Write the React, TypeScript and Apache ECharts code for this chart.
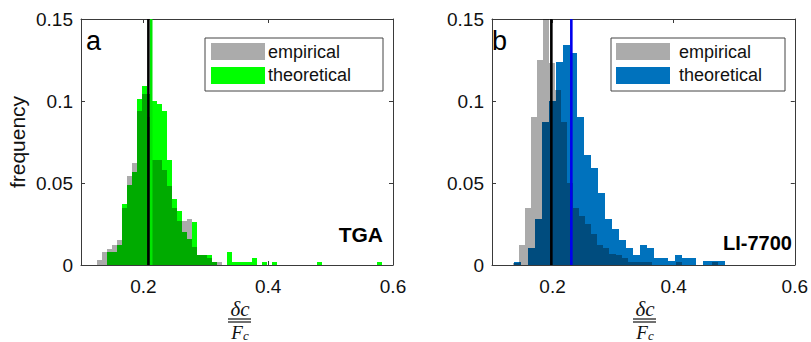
import React, { useEffect, useRef } from "react";
import * as echarts from "echarts";

// ---------- axes ----------
const X_MIN = 0.1;
const X_MAX = 0.6;
const X_TICKS = [0.2, 0.4, 0.6];
const Y_MIN = 0;
const Y_MAX = 0.15;
const Y_STEP = 0.05;

// ---------- panel a (TGA) ----------
const TGA_BIN_START = 0.126;
const TGA_BIN_WIDTH = 0.008;
const tgaEmpirical = [
  0.003, 0.008, 0.0095, 0.012, 0.0155, 0.035, 0.054, 0.062, 0.094, 0.104,
  0.09, 0.064, 0.064, 0.058, 0.048, 0.035, 0.027, 0.027, 0.028, 0.011,
  0.006, 0.006, 0.004, 0.002, 0.002,
];
const tgaTheoretical = [
  0, 0, 0.008, 0.008, 0.0125, 0.037, 0.049, 0.057, 0.101, 0.109,
  0.104, 0.1, 0.098, 0.094, 0.064, 0.04, 0.033, 0.02, 0.016, 0.026,
  0.006, 0.006, 0.006, 0.002, 0, 0, 0.008, 0.002, 0.002, 0.002,
  0.002, 0.004, 0, 0.002, 0, 0.002, 0, 0, 0, 0,
  0, 0, 0, 0, 0.002, 0, 0, 0, 0, 0,
  0, 0, 0, 0, 0, 0, 0.002,
];
const TGA_EMP_MEAN = 0.208;
const TGA_THEO_MEAN = 0.2125;

// ---------- panel b (LI-7700) ----------
const LI_EMP_START = 0.134;
const LI_EMP_WIDTH = 0.01;
const liEmpirical = [
  0.0015, 0.0125, 0.035, 0.09, 0.125, 0.16, 0.123, 0.107, 0.087, 0.05,
  0.035, 0.03, 0.025, 0.019, 0.0125, 0.0105, 0.007, 0.006, 0.004, 0.002,
  0.002, 0.002, 0.002, 0, 0, 0, 0, 0.002, 0, 0,
  0, 0, 0, 0.002,
];
const LI_THEO_START = 0.136;
const LI_THEO_WIDTH = 0.0116;
const liTheoretical = [
  0.002, 0, 0.0105, 0.028, 0.087, 0.1, 0.124, 0.134, 0.129, 0.09,
  0.067, 0.059, 0.044, 0.028, 0.022, 0.0155, 0.0105, 0.006, 0.012, 0.0105,
  0.0044, 0.0044, 0.0023, 0.006, 0.0044, 0.0044, 0, 0.0023, 0.0023, 0.0023,
];
const LI_EMP_MEAN = 0.198;
const LI_THEO_MEAN = 0.231;

// ---------- texts ----------
const Y_NAME = "frequency";
const LEGEND_LABELS = ["empirical", "theoretical"];
const PANEL_TAGS = ["a", "b"];
const INSTRUMENTS = ["TGA", "LI-7700"];

// ---------- colours ----------
const EMP_FILL = "rgba(0,0,0,0.33)";
const EMP_SWATCH = "#ababab";
const GREEN = "#00ff00";
const BLUE = "#0072bd";
const GREEN_LINE = "#00e600";
const BLUE_LINE = "#0000ee";
const AXIS = "#3a3a3a";
const FONT = "'Liberation Sans', Arial, sans-serif";
const SERIF = "'Liberation Serif', 'Times New Roman', serif";

const fmt = (v: number) => String(+Number(v).toFixed(3));

function histSeries(
  name: string,
  start: number,
  width: number,
  values: number[],
  color: string,
  axis: number,
  z: number
) {
  return {
    name,
    type: "custom",
    xAxisIndex: axis * 2,
    yAxisIndex: axis * 2,
    z,
    data: values.map((v, i) => [start + i * width, start + (i + 1) * width, v]),
    encode: { x: [0, 1], y: 2 },
    renderItem: (params: any, api: any) => {
      const v = api.value(2);
      if (!v) return null;
      const cs = params.coordSys;
      const p0 = api.coord([api.value(0), v]);
      const p1 = api.coord([api.value(1), 0]);
      const x0 = Math.round(p0[0]);
      const x1 = Math.round(p1[0]);
      const yb = Math.round(p1[1]);
      const yt = Math.max(Math.round(p0[1]), cs.y);
      return {
        type: "rect",
        shape: { x: x0, y: yt, width: x1 - x0, height: yb - yt },
        style: { fill: color },
      };
    },
  };
}

function meanLine(value: number, color: string, axis: number) {
  return {
    type: "line",
    xAxisIndex: axis * 2,
    yAxisIndex: axis * 2,
    z: 10,
    symbol: "none",
    silent: true,
    data: [
      [value, Y_MIN],
      [value, Y_MAX],
    ],
    lineStyle: { color, width: 2.6 },
  };
}

function xAxes(grid: number) {
  const common = {
    type: "value",
    gridIndex: grid,
    min: X_MIN,
    max: X_MAX,
    splitLine: { show: false },
    axisLine: { show: true, onZero: false, lineStyle: { color: AXIS, width: 1 } },
    axisTick: {
      show: true,
      inside: true,
      length: 4,
      customValues: X_TICKS,
      lineStyle: { color: AXIS },
    },
  };
  return [
    {
      ...common,
      position: "bottom",
      axisLabel: {
        show: true,
        customValues: X_TICKS,
        formatter: fmt,
        fontSize: 19,
        fontFamily: FONT,
        color: "#111",
        margin: 12,
      },
    },
    { ...common, position: "top", axisLabel: { show: false } },
  ];
}

function yAxes(grid: number, withName: boolean) {
  const common = {
    type: "value",
    gridIndex: grid,
    min: Y_MIN,
    max: Y_MAX,
    interval: Y_STEP,
    splitLine: { show: false },
    axisLine: { show: true, onZero: false, lineStyle: { color: AXIS, width: 1 } },
    axisTick: { show: true, inside: true, length: 4, lineStyle: { color: AXIS } },
  };
  return [
    {
      ...common,
      position: "left",
      name: withName ? Y_NAME : "",
      nameLocation: "middle",
      nameGap: 53,
      nameTextStyle: { fontSize: 21, fontFamily: FONT, color: "#111" },
      axisLabel: {
        show: true,
        formatter: fmt,
        fontSize: 19,
        fontFamily: FONT,
        color: "#111",
        margin: 8,
      },
    },
    { ...common, position: "right", axisLabel: { show: false } },
  ];
}

function legendGraphics(
  box: [number, number, number, number],
  swatchX: number,
  textX: number,
  color: string
) {
  const [bx, by, bw, bh] = box;
  return [
    {
      type: "rect",
      z: 100,
      shape: { x: bx, y: by, width: bw, height: bh },
      style: { fill: "#fff", stroke: "#444", lineWidth: 1 },
    },
    {
      type: "rect",
      z: 101,
      shape: { x: swatchX, y: by + 5, width: 54, height: 17 },
      style: { fill: EMP_SWATCH },
    },
    {
      type: "rect",
      z: 101,
      shape: { x: swatchX, y: by + 29, width: 54, height: 17 },
      style: { fill: color },
    },
    {
      type: "text",
      z: 101,
      x: textX,
      y: by + 14,
      style: {
        text: LEGEND_LABELS[0],
        fontSize: 18,
        fontFamily: FONT,
        fill: "#111",
        align: "left",
        verticalAlign: "middle",
      },
    },
    {
      type: "text",
      z: 101,
      x: textX,
      y: by + 37,
      style: {
        text: LEGEND_LABELS[1],
        fontSize: 18,
        fontFamily: FONT,
        fill: "#111",
        align: "left",
        verticalAlign: "middle",
      },
    },
  ];
}

function fractionGraphics(cx: number) {
  return [
    {
      type: "text",
      x: cx,
      y: 309,
      style: {
        text: "δc",
        fontSize: 21,
        fontStyle: "italic",
        fontFamily: SERIF,
        fill: "#111",
        align: "center",
        verticalAlign: "middle",
      },
    },
    {
      type: "line",
      shape: { x1: cx - 12, y1: 319, x2: cx + 11, y2: 319 },
      style: { stroke: "#111", lineWidth: 1.2 },
    },
    {
      type: "line",
      shape: { x1: cx - 12, y1: 322, x2: cx + 11, y2: 322 },
      style: { stroke: "#111", lineWidth: 1.2 },
    },
    {
      type: "text",
      x: cx - 3,
      y: 332,
      style: {
        text: "F",
        fontSize: 19,
        fontStyle: "italic",
        fontFamily: SERIF,
        fill: "#111",
        align: "center",
        verticalAlign: "middle",
      },
    },
    {
      type: "text",
      x: cx + 6,
      y: 335.5,
      style: {
        text: "c",
        fontSize: 13,
        fontStyle: "italic",
        fontFamily: SERIF,
        fill: "#111",
        align: "center",
        verticalAlign: "middle",
      },
    },
  ];
}

export default function App() {
  const ref = useRef<HTMLDivElement>(null);

  useEffect(() => {
    if (!ref.current) return;
    const chart = echarts.init(ref.current, undefined, { renderer: "svg" });
    const option: any = {
      animation: false,
      backgroundColor: "#fff",
      grid: [
        { left: 81, top: 19, width: 312, height: 246 },
        { left: 492, top: 19, width: 305, height: 246 },
      ],
      xAxis: [...xAxes(0), ...xAxes(1)],
      yAxis: [...yAxes(0, true), ...yAxes(1, false)],
      series: [
        histSeries("theoretical a", TGA_BIN_START, TGA_BIN_WIDTH, tgaTheoretical, GREEN, 0, 2),
        histSeries("empirical a", TGA_BIN_START, TGA_BIN_WIDTH, tgaEmpirical, EMP_FILL, 0, 3),
        meanLine(TGA_THEO_MEAN, GREEN_LINE, 0),
        meanLine(TGA_EMP_MEAN, "#000", 0),
        histSeries("theoretical b", LI_THEO_START, LI_THEO_WIDTH, liTheoretical, BLUE, 1, 2),
        histSeries("empirical b", LI_EMP_START, LI_EMP_WIDTH, liEmpirical, EMP_FILL, 1, 3),
        meanLine(LI_THEO_MEAN, BLUE_LINE, 1),
        meanLine(LI_EMP_MEAN, "#000", 1),
      ],
      graphic: [
        ...legendGraphics([205, 38, 178, 53], 211, 268, GREEN),
        ...legendGraphics([611, 38, 174, 53], 616, 679, BLUE),
        {
          type: "text",
          x: 86,
          y: 41,
          z: 100,
          style: {
            text: PANEL_TAGS[0],
            fontSize: 27,
            fontFamily: FONT,
            fill: "#000",
            align: "left",
            verticalAlign: "middle",
          },
        },
        {
          type: "text",
          x: 492,
          y: 41,
          z: 100,
          style: {
            text: PANEL_TAGS[1],
            fontSize: 27,
            fontFamily: FONT,
            fill: "#000",
            align: "left",
            verticalAlign: "middle",
          },
        },
        {
          type: "text",
          x: 383,
          y: 234.5,
          z: 100,
          style: {
            text: INSTRUMENTS[0],
            fontSize: 21,
            fontWeight: "bold",
            fontFamily: FONT,
            fill: "#000",
            align: "right",
            verticalAlign: "middle",
          },
        },
        {
          type: "text",
          x: 792,
          y: 243,
          z: 100,
          style: {
            text: INSTRUMENTS[1],
            fontSize: 20,
            fontWeight: "bold",
            fontFamily: FONT,
            fill: "#000",
            align: "right",
            verticalAlign: "middle",
          },
        },
        ...fractionGraphics(240),
        ...fractionGraphics(645),
      ],
    };
    chart.setOption(option);
    return () => chart.dispose();
  }, []);

  return (
    <div
      ref={ref}
      style={{ position: "absolute", left: 0, top: 0, width: 811, height: 342 }}
    />
  );
}
